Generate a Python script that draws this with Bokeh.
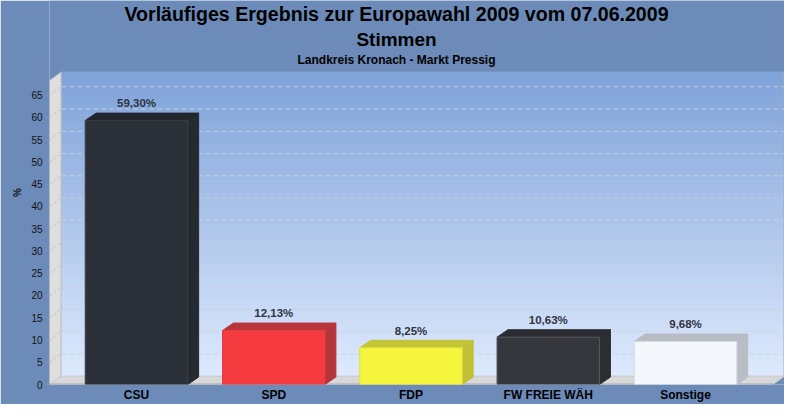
from bokeh.plotting import figure
from bokeh.models import Range1d, FixedTicker
from bokeh.embed import file_html
from bokeh.resources import INLINE
from bokeh.core.properties import value

# ---------------- data ----------------
parties = ["CSU", "SPD", "FDP", "FW FREIE WÄH", "Sonstige"]
shares = [59.30, 12.13, 8.25, 10.63, 9.68]
share_labels = ["59,30%", "12,13%", "8,25%", "10,63%", "9,68%"]
y_ticks = [0, 5, 10, 15, 20, 25, 30, 35, 40, 45, 50, 55, 60, 65]
title_main = "Vorläufiges Ergebnis zur Europawahl 2009 vom 07.06.2009"
title_line2 = "Stimmen"
title_sub = "Landkreis Kronach - Markt Pressig"
y_title = "%"

# ---------------- styling ----------------
front_colors = ["#2c3139", "#f53a40", "#f5f53e", "#35373c", "#f4f7fc"]
top_colors = ["#21252c", "#b8363b", "#c4c437", "#2a2c31", "#b8bcc4"]
side_colors = ["#252930", "#b4353a", "#c0c034", "#2b2d31", "#b9bdc5"]
edge_colors = ["#3a3e45", "#d84046", "#e0e040", "#55585e", "#d6dae2"]

BG = "#6c8bb9"
FONT = "Liberation Sans"

W, H = 784, 404
ML, MT, MB, MR = 49, 0, 18, 0
FW = W - ML - MR
FH = H - MT - MB

PXU = 137.26            # pixels per category unit
X0 = -0.6338
X1 = X0 + FW / PXU
PYU = 4.474             # pixels per percent
YTOP = FH / PYU
Y1 = 70.17              # top of the back wall


def ux(px):
    return px / PXU


def uy(px):
    return px / PYU


def sx(px):             # screen x (figure px) -> data x
    return X0 + (px - ML) / PXU


def sy(px):             # screen y (figure px) -> data y
    return (FH - px) / PYU


BW = ux(102.5)
bdx, bdy = ux(10.9), uy(7.5)
wdx, wdy = ux(11.6), uy(8.45)

p = figure(width=W, height=H, output_backend="svg", toolbar_location=None,
           x_range=Range1d(X0, X1), y_range=Range1d(0, YTOP),
           min_border_left=ML, min_border_top=MT, min_border_bottom=MB,
           min_border_right=MR, background_fill_color=BG,
           border_fill_color=BG, outline_line_color=None)
p.grid.visible = False


# back wall gradient
def hex2rgb(h):
    return tuple(int(h[i:i + 2], 16) for i in (1, 3, 5))


c_top, c_bot = hex2rgb("#7fa2d8"), hex2rgb("#deeafe")
N = 60
bot_list, top_list, col_list = [], [], []
for k in range(N):
    b = wdy + (Y1 - wdy) * k / N
    t = wdy + (Y1 - wdy) * (k + 1) / N
    f = (k + 0.5) / N
    rgb = tuple(round(c_bot[j] + (c_top[j] - c_bot[j]) * f) for j in range(3))
    bot_list.append(b)
    top_list.append(t)
    col_list.append("#%02x%02x%02x" % rgb)
p.quad(left=X0 + wdx, right=X1, bottom=bot_list, top=top_list,
       fill_color=col_list, line_color=col_list, line_width=1.2)
p.segment(x0=[X1 - ux(0.5)], y0=[wdy], x1=[X1 - ux(0.5)], y1=[Y1],
          line_color="#9aabc6", line_width=1)

# grid on back wall
gv = [v for v in y_ticks if v > 0]
p.segment(x0=X0 + wdx, y0=[v + wdy for v in gv], x1=X1 - ux(1),
          y1=[v + wdy for v in gv], line_color="#c9d1de", line_alpha=0.85,
          line_width=1, line_dash="5 3")

# left wall
p.patch(x=[X0, X0 + wdx, X0 + wdx, X0], y=[0, wdy, Y1, Y1 - wdy],
        fill_color="#dedede", line_color="#bdbdbd", line_width=1)
p.segment(x0=X0, y0=gv, x1=X0 + wdx, y1=[v + wdy for v in gv],
          line_color="#c4c4c4", line_width=1, line_dash="3 2")

# floor
p.patch(x=[X0, X1 - wdx, X1, X0 + wdx], y=[0, 0, wdy, wdy],
        fill_color="#d8d8d8", line_color="#c8c8c8", line_width=1)
p.segment(x0=[X0], y0=[uy(0.5)], x1=[X1 - wdx], y1=[uy(0.5)],
          line_color="#a9a9a9", line_width=1)

# bars
idx = list(range(len(parties)))
lefts = [i - BW / 2 for i in idx]
rights = [i + BW / 2 for i in idx]
side_xs = [[r, r + bdx, r + bdx, r] for r in rights]
side_ys = [[0, bdy, v + bdy, v] for v in shares]
top_xs = [[l, l + bdx, r + bdx, r] for l, r in zip(lefts, rights)]
top_ys = [[v, v + bdy, v + bdy, v] for v in shares]
p.patches(xs=side_xs, ys=side_ys, fill_color=side_colors, line_color=side_colors)
p.patches(xs=top_xs, ys=top_ys, fill_color=top_colors, line_color=top_colors)
p.quad(left=lefts, right=rights, bottom=0, top=shares,
       fill_color=front_colors, line_color=edge_colors, line_width=1)

# value labels
p.text(x=idx, y=[v + bdy + uy(9.8) for v in shares],
       text=share_labels, text_font=value(FONT), text_font_style="bold",
       text_font_size="11.5px", text_color="#2f3440", text_align="center",
       text_baseline="middle")

# titles (drawn as text in the empty band above the wall)
p.text(x=[sx(396)] * 3, y=[sy(13.5), sy(38.8), sy(59.7)],
       text=[title_main, title_line2, title_sub], text_font=value(FONT),
       text_font_style="bold", text_font_size=["19.6px", "19px", "12px"],
       text_color="#000000", text_align="center", text_baseline="middle")

# axes
p.yaxis.ticker = FixedTicker(ticks=y_ticks)
p.yaxis.bounds = (0, Y1)
p.yaxis.minor_tick_line_color = None
p.yaxis.major_tick_in = 0
p.yaxis.major_tick_out = 3
p.yaxis.major_tick_line_color = "#8c96a8"
p.yaxis.axis_line_color = None
p.yaxis.major_label_standoff = 4
p.yaxis.major_label_text_font = FONT
p.yaxis.major_label_text_font_size = "10px"
p.yaxis.major_label_text_color = "#111111"
p.yaxis.axis_label = y_title
p.yaxis.axis_label_text_font = FONT
p.yaxis.axis_label_text_font_size = "10px"
p.yaxis.axis_label_text_font_style = "bold"
p.yaxis.axis_label_text_color = "#111111"
p.yaxis.axis_label_standoff = 5

p.xaxis.ticker = FixedTicker(ticks=idx)
p.xaxis.major_label_overrides = {i: name for i, name in zip(idx, parties)}
p.xaxis.axis_line_color = None
p.xaxis.major_tick_line_color = None
p.xaxis.minor_tick_line_color = None
p.xaxis.major_tick_out = 0
p.xaxis.major_tick_in = 0
p.xaxis.major_label_standoff = 3
p.xaxis.major_label_text_font = FONT
p.xaxis.major_label_text_font_size = "12px"
p.xaxis.major_label_text_font_style = "bold"
p.xaxis.major_label_text_color = "#000000"

open("out.html", "w").write(file_html(p, INLINE))
